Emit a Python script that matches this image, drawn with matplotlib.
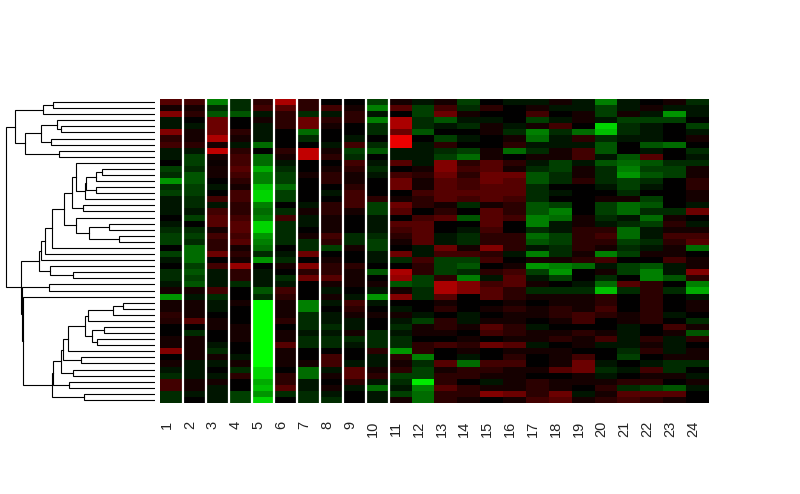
"""Expression heatmap with a row dendrogram (red/green, 50 rows x 24 samples)"""

# Import libary
import numpy as np
import matplotlib
matplotlib.use("Agg")
import matplotlib.pyplot as plt
from matplotlib.colors import LinearSegmentedColormap
from matplotlib.transforms import ScaledTranslation

# Heatmap values, one list per sample (top row first), green is negative and red positive
COL_1 = [4, 1, 6, -1, -1, 6, 2, 3, -1, -1, 0, -3, -2, -7, -2, -3, -1, -1, -1, 0, -1, -2, -3, -3, 0, -3, -1, 0, -2, -2, -1, 1, -7, 1, 1, 2, 1.5, 0, 0, 1, 1, 6, 0, 1, -1, -2, 3, 3, -2, -2]
COL_2 = [3, 1, 2, 0, -1, 1, 1, 2, -1, -3, -3, -2, -4, -4, -3, -3, -2, -2, -1, -3, 0, -2, -3, -2, -5, -5, -5, -3, -4, -3, -4, 1, -1, 1, 1, 1, 4, 0, -2, 1, 1, 1, 1, -1, -1, -1, 1, 1, -1, 0]
COL_3 = [-6, -2, -4, 5, 5, 5, 8, 1, 9, 1, 0.5, 1, 1, 0, -1, 0, 3, -1, 3, 4, 4, 1, 3, 2, 2, 5, 0, 3, -1, -1, -1, 3, -2, -1, -1, 0, 1, 1, 0, 0, -1, -2, 1, -1, 0, -1, 1, -1, -1, -1]
COL_4 = [-2, -2, -4, 0, 0, 2, 1, -1, 2, 3, 3, 4, 3, 2, 1, 3, 3, 2, 2, 3, 4, 4, 3, 4, 1, 2, 1, 7, 2, 2, -2, 0, 0, 1, 0, 0, 0, 1, 1, 1, 0, 0, -1, 1, -2, 2, 0, 0, -3, -3]
COL_5 = [2, 3, -1, 1, -1, -1, -1, -5, 0, -5, -5, -8, -6, -6, -9, -10, -10, -6, -5, -6, -10, -10, -7, -6, -5, -2, -7, 0, -1, -1, -1, -4, -2, -12, -12, -12, -12, -12, -12, -12, -12, -12, -12, -12, -10, -10, -8, -9, -7, -10]
COL_6 = [8, 4, 2, 2, 2, 0, 0, 0, 2, 1, -1, -2, -3, -3, -5, -3, -3, 0, -2, 3, -2, -2, -2, -2, 0, -1, -2, 1, 0, -2, -1, 3, 2, 1, 1, 1, 2, 0, 1, 1, 4, 1, 1, 1, 0, 2, 2, 4, -2, 0]
COL_7 = [2, 2, -2, 5, 5, -5, -2, 0, 9, 9, 0, 0, 1, 0, 0, 0, 0, -1, 1, -1, -1, 0, 1, -2, -2, 5, 0, 6, 2, 5, 0, 0, 0, -6, -6, -2, -2, -2, -1, -2, -2, 0, 0, 1, -5, -5, -1, -1, -2, -2]
COL_8 = [0, 3, -1, 2, 1, 0, 0, -1, 1, 2, 0, 1, 2, 2, 0, -1, 0, 2, 2, 1, 1, 1, 3, 2, -3, 0, 1, 2, 2, 4, 1, -1, 1, -1, 0, -1, -1, -2, -1, -2, -2, 0, 3, 3, -1, 1, 0, 1, -1, -2]
COL_9 = [0, 1, 2, 2, 0, 0, -1, 3, -3, -2, 3, 2, 1, 1, 2, 3, 3, 3, 1, 0, 0, 0, -2, -2, 1, 0, 0, 2, 1, 1, 1, 0, -1, 3, 2, 1, -1, -1, 1, -2, -1, 0, 0, -1, 4, 4, 2, -1, 0, 0]
COL_10 = [-3, -6, -1, -6, -2, -2, 0, -2, -4, 0, -1, -2, -1, 0, 0, 0, 2, -3, -3, -1, -1, -1, -2, -3, -3, -1, -1, 0, -4, 0, 1, -1, -7, -1, 0, 1, 0, 0, -2, -2, -2, 2, -1, -1, 1, 2, -1, -5, -1, -1]
COL_11 = [1, 4, 0, 8, 8, 5, 11, 11, -1, -1, 4, 0, 3, 5, 5, 0, 1, 5, 4, 0, 4, 3, 2, 1, 0, 5, -2, 0, 8, 7, -4, 1, 6, 0, -1, 1, -1, -2, -1, -2, -2, -7, 2, 1, 2, -3, -2, -1, -3, 1]
COL_12 = [-1, -3, -3, -2, -2, -4, 0, -1, -1, -1, -1, 1, 2, 1, 1, 3, 2, 2, 0, 3, 4, 4, 4, 4, -1, -1, 3, 2, 2, -3, -3, -2, -2, 0, 0, -1, -3, 1, 1, 0, 2, 2, -6, -2, -3, -3, -11, -6, -5, -5]
COL_13 = [1, 3, 5, -4, -1, 0, -3, 2, -2, -3, 6, 6, 5, 4, 4, 4, 4, 1, 2, 4, 0, 0, -1, -1, 5, 3, -3, -3, -3, 2, 8, 8, 4, 1, 2, 0, 2, 2, 1, 0, 3, 0, 0, 4, 1, 2, 2, 4, 2, 2]
COL_14 = [-3, -2, 1, -1, -2, 0, -1, 0, -3, -5, 2, 3, 2, 3, 3, 4, 3, -2, 0, -4, 0, -1, -2, -2, 1, 3, -3, -4, -2, -6, 6, 6, 0, 0, 0, -1, -1, 1, 0, 1, 2, 1, -1, -5, 2, 2, 0, 2, 2, 1]
COL_15 = [0, 2, 0, -1, 1, 1, 0, 0, 1, 1, 4, 4, 5, 5, 4, 4, 4, 1, 4, 4, 4, 3, 2, 2, 6, 2, 3, 0, 2, -1, 3, 4, 4, 0, 1, 0, 1, 4, 3, 0, 5, 0, 0, 3, 2, 1, -1, 1, 6, 0]
COL_16 = [-1, 0, 0, 0, -1, -2, 1, 2, -5, 0, 2, 1, 5, 4, 4, 4, 3, 2, 2, 3, 0, 0, 2, 2, 2, -1, 0, 1, 3, 4, 4, 2, 2, 1, 2, 1, 1, 2, 2, 1, 4, 1, 2, 3, 1, 1, 1, 1, 5, 1]
COL_17 = [-1, 1, 3, -3, 1, -6, -5, -1, -2, 1, -1, -2, -4, -4, -2, -2, -2, -4, -4, -6, -6, -2, -5, -4, -1, -6, 1, -7, -3, -1, 1, -2, 1, 0, 1, 1, 0, -1, 1, 1, -1, 1, 0, 0, 1, 0, 2, 2, 2, 3]
COL_18 = [1, -1, 0, -1, 3, -2, -1, -1, 1, 1, -3, -3, -2, -2, 0, -1, 0, -3, -6, -5, -1, -1, -3, -3, -2, -2, 1, -6, -7, -3, 0, -2, 1, 1, 2, 2, 1, 0, 1, 2, 0, 1, 1, 1, 4, 0, 1, 1, 5, 4]
COL_19 = [-1, -1, 1, 1, 0, -5, 2, -1, 3, 3, -1, 1, 1, 2, 0, 0, 0, 0, 0, 1, 1, 2, 2, 2, 2, 1, 2, -5, 0, 0, -1, -2, 1, 1, 1, 3, 3, 0, 2, 1, 1, 0, 3, 5, 5, 1, 1, 0, -1, 1]
COL_20 = [-6, -3, -3, -1, -10, -9, -2, -4, -4, -1, -4, -2, -2, -2, -1, 0, 1, -3, -3, -2, -1, 2, 3, 2, 1, -6, 3, -1, 1, -2, -5, -9, 2, 2, 3, 2, 0, 0, 1, 3, -1, 0, 0, -1, -2, -1, 1, 2, 1, 2]
COL_21 = [-1, -1, 1, -3, -2, -2, -1, 0, 0, -4, -5, -6, -7, -3, -3, -2, 1, -5, -5, -1, -2, -5, -5, -3, -2, -3, 0, -3, -3, 0, 4, -2, 0, 0, 0, 1, 1, -1, -1, -1, -1, -2, -3, 0, -1, 0, 2, -2, 4, 3]
COL_22 = [0, 1, -1, -3, -1, -1, -1, -4, -1, 4, -4, -3, -4, -2, -1, 0, -3, -4, -2, -5, -3, -1, -1, -2, -1, 1, 0, -4, -6, -6, 2, 2, 2, 2, 2, 2, 2, 0, 0, 2, 1, 2, 0, -1, 3, 1, 2, -3, 4, 2]
COL_23 = [1, -1, -7, -3, 0, 0, 0, -5, 0, 0, -2, -3, -3, 0, 0, 0, 0, 0, -2, 1, 2, 1, 3, 2, 1, 1, 3, -1, -1, -4, 0, -2, 0, 0, 0, -1, 0, 3, 1, -1, -1, -1, 1, -2, -2, 1, 0, -4, 4, 1]
COL_24 = [-2, -1, -1, 0, -3, -1, 1, 0, -2, -1, -2, 1, 1, 2, 2, 1, 1, -1, 5, 0, -1, 1, 3, 4, -5, 0, 1, 1, 6, 2, -6, -8, -1, 1, 1, 0, -2, 1, -4, 2, 0, 1, 1, -2, 0, -1, 1, -1, 0, 0]

COLUMNS = [COL_1, COL_2, COL_3, COL_4, COL_5, COL_6, COL_7, COL_8, COL_9, COL_10, COL_11, COL_12,
           COL_13, COL_14, COL_15, COL_16, COL_17, COL_18, COL_19, COL_20, COL_21, COL_22, COL_23, COL_24]
COL_LABELS = [str(i + 1) for i in range(24)]

# Row clusters written as (height, first, second), a plain int is a leaf row
TOP_A = (112, (102, 0, 1), 2)
TOP_B = (114, (98, 3, (94, 4, 5)), (104, 6, 7))
TOP = (140, TOP_A, (130, TOP_B, (96, 8, 9)))

MID_A = (70, (69, (59, (53, 11, 12), 13), (59, 14, 15)), 16)
MID_B = (83, (79, 10, MID_A), (72, 17, 18))
MID_C = (79, 19, (66, (46, 20, 21), (36, 22, 23)))
MID = (114, (110, (103, (91, MID_B, MID_C), 24), 25), 26)
MID_ALL = (116, MID, (105, 27, (82, 28, 29)))

LOW_A = (67, (42, (32, 33, 34), 35), 36)
LOW_B = (63, (51, 37, 38), (58, 39, 40))
LOW_C = (92, (87, (70, LOW_A, LOW_B), 41), (74, 42, 43))
LOW = (103, (102, (94, LOW_C, (82, 44, 45)), (86, 46, 47)), (71, 48, 49))
LOW_ALL = (133, (106, 30, 31), (132, 32, LOW))

TREE = (149, TOP, (134.5, MID_ALL, LOW_ALL))

# Draw figure
fig = plt.figure(figsize=(8, 4.94), dpi=100)
WIDTH, HEIGHT = fig.get_size_inches() * fig.dpi
left, right, top, bottom = 160, 709, 99, 403

# Heatmap
CMAP = LinearSegmentedColormap.from_list("green_red", ["#00FF00", "#000000", "#FF0000"])
ax = fig.add_axes([left / WIDTH, 1 - bottom / HEIGHT, (right - left) / WIDTH, (bottom - top) / HEIGHT])
ax.imshow(np.column_stack(COLUMNS), cmap=CMAP, vmin=-12, vmax=12, aspect="auto", interpolation="nearest")
ax.vlines(np.arange(10) + 0.5, -0.5, 49.5, color="white", linewidth=1.6)
ax.set_xticks(range(24))
ax.set_xticklabels(COL_LABELS, rotation=90, family="Liberation Sans", fontsize=10.5, color="#222222", va="top")
ax.set_yticks([])
ax.tick_params(axis="x", length=0, pad=13)
# The labels sit a little left of the column centres
shift = ScaledTranslation(-4.5 / 100, 0, fig.dpi_scale_trans)
for label in ax.get_xticklabels():
    label.set_transform(label.get_transform() + shift)
for spine in ax.spines.values():
    spine.set_visible(False)

# Row dendrogram
ax_tree = fig.add_axes([0, 1 - bottom / HEIGHT, 155 / WIDTH, (bottom - top) / HEIGHT])
ax_tree.set_xlim(155, 0)
ax_tree.set_ylim(49.5, -0.5)
ax_tree.axis("off")


def draw_node(node):
    """Draw one cluster and give back its height and row position"""
    if isinstance(node, int):
        return 0, node
    height, first, second = node
    h1, y1 = draw_node(first)
    h2, y2 = draw_node(second)
    ax_tree.plot([h1, height, height, h2], [y1, y1, y2, y2], color="black", linewidth=0.8, solid_joinstyle="miter")
    return height, (y1 + y2) / 2


draw_node(TREE)

fig.savefig("out.png", dpi=100)
